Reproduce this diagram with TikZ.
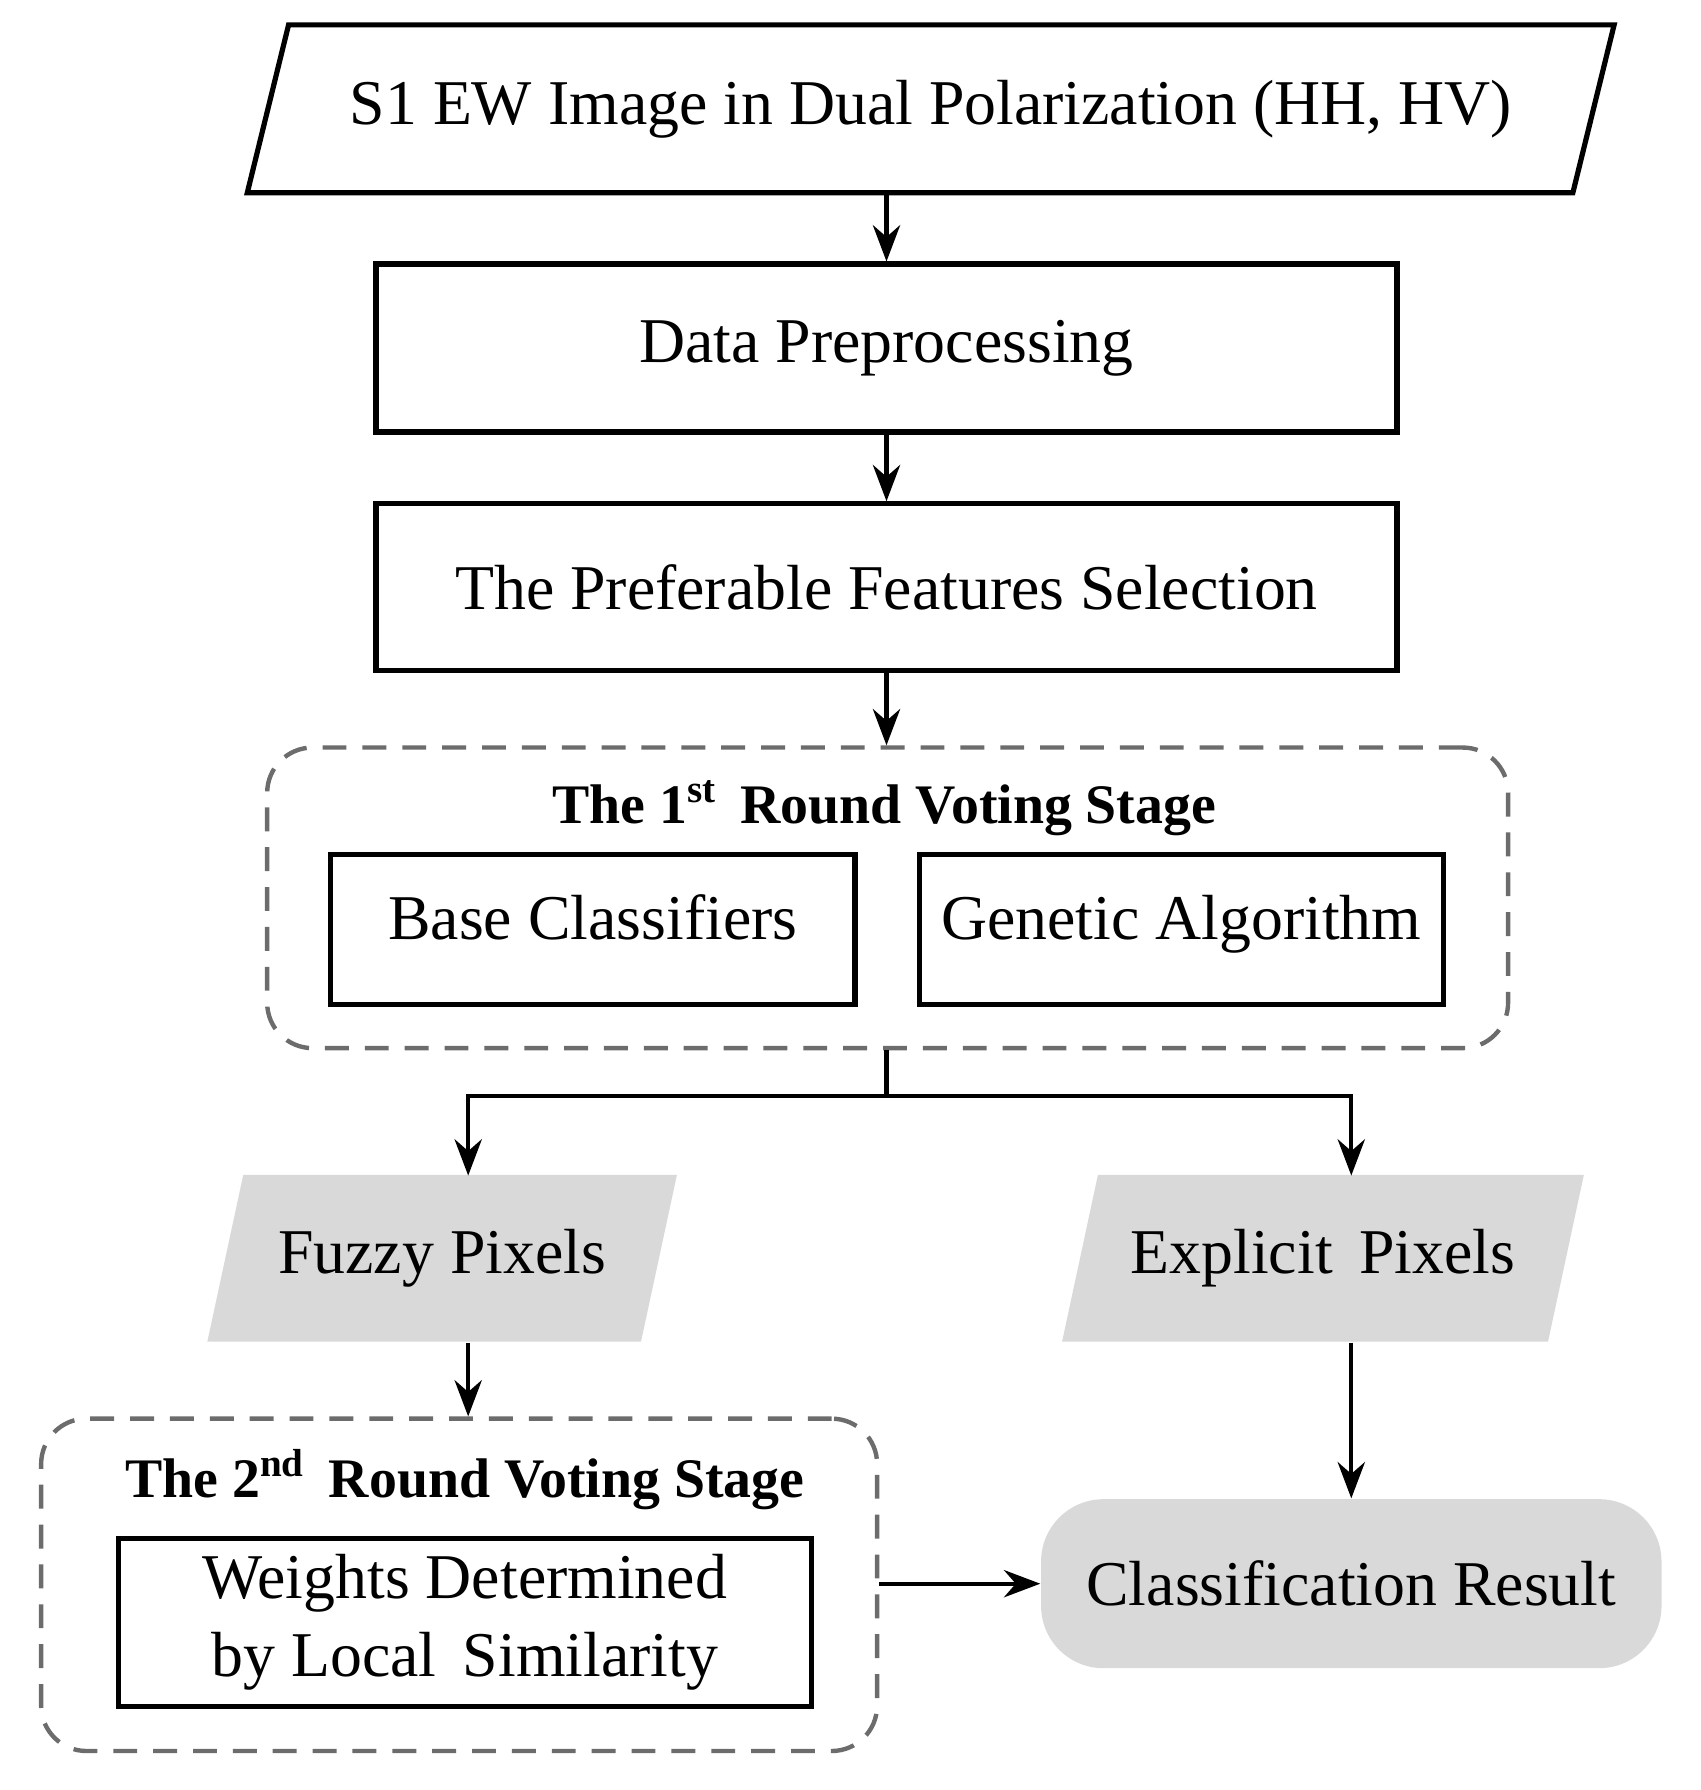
\documentclass[tikz,border=0pt]{standalone}
\usepackage{fontspec}
\setmainfont{Liberation Serif}
\usetikzlibrary{arrows.meta,positioning,shapes.geometric}

\begin{document}
\begin{tikzpicture}[
    x=0.01cm, y=-0.01cm,
    box/.style={rectangle, draw, line width=1.3pt, align=center, font=\fontsize{16}{19.5}\selectfont},
    para/.style={trapezium, trapezium left angle=64, trapezium right angle=116, trapezium stretches body, align=center, font=\fontsize{16}{19.5}\selectfont},
    stage/.style={rectangle, draw=gray!85!black, dashed, dash pattern=on 6pt off 4pt, line width=1.1pt, rounded corners=0.4cm},
    title/.style={font=\fontsize{14}{17}\selectfont\bfseries},
    arrow/.style={-{Stealth[length=3.2mm, width=2.4mm]}, line width=1.1pt}
]
\useasboundingbox (0,0) rectangle (1500,1579);

% Input
\node[para, draw, line width=1.3pt, minimum width=12.05cm, minimum height=1.48cm] (input) at (821,96) {S1 EW Image in Dual Polarization (HH, HV)};

% Preprocessing
\node[box, minimum width=9cm, minimum height=1.48cm] (prep) at (782,307) {Data Preprocessing};
\node[box, minimum width=9cm, minimum height=1.47cm] (feat) at (782,518) {The Preferable Features Selection};

% 1st round
\node[stage, minimum width=10.94cm, minimum height=2.65cm] (stage1) at (783,792) {};
\node[title] (title1) at (780,713) {The 1\textsuperscript{st}\, Round Voting Stage};
\node[box, text height=1.6ex, text depth=0.5ex, minimum width=4.62cm, minimum height=1.32cm] (base) at (523,820) {Base Classifiers};
\node[box, text height=1.6ex, text depth=0.5ex, minimum width=4.62cm, minimum height=1.32cm] (ga) at (1042,820) {Genetic Algorithm};

% Pixels
\node[para, fill=gray!30, trapezium left angle=67, trapezium right angle=113, minimum width=4.14cm, minimum height=1.47cm] (fuzzy) at (390,1110) {Fuzzy Pixels};
\node[para, fill=gray!30, trapezium left angle=67, trapezium right angle=113, minimum width=4.6cm, minimum height=1.47cm] (explicit) at (1167,1110) {Explicit\, Pixels};

% 2nd round
\node[stage, minimum width=7.37cm, minimum height=2.93cm] (stage2) at (405,1398) {};
\node[title] (title2) at (410,1305) {The 2\textsuperscript{nd}\, Round Voting Stage};
\node[box, minimum width=6.11cm, minimum height=1.48cm] (weights) at (410,1431) {Weights Determined\\by Local\, Similarity};

% Result
\node[rectangle, rounded corners=0.55cm, fill=gray!30, minimum width=5.47cm, minimum height=1.49cm, font=\fontsize{16}{19.5}\selectfont] (result) at (1192,1397) {Classification Result};

\coordinate (split) at (782,967);

\draw[arrow] (input.south -| prep.north) -- (prep);
\draw[arrow] (prep) -- (feat);
\draw[arrow] (feat) -- (stage1.north -| feat.south);
\draw[line width=1.1pt] (stage1.south -| split) -- (split);
\draw[arrow] (split) -| (413,1037);
\draw[arrow] (split) -| (1192,1037);
\draw[arrow] (fuzzy.south -| 413,0) -- (stage2.north -| 413,0);
\draw[arrow] (explicit.south -| result.north) -- (result);
\draw[arrow] (stage2.east |- result) -- (result);
\end{tikzpicture}
\end{document}
